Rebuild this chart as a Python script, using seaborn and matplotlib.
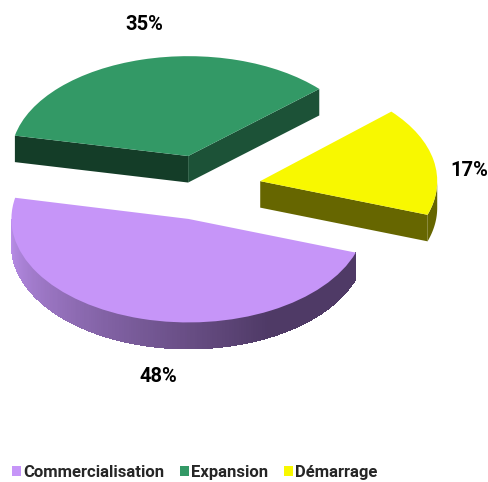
import numpy as np
import seaborn as sns
import matplotlib.pyplot as plt
from matplotlib.collections import PolyCollection
from matplotlib.patches import Patch
from matplotlib.transforms import Affine2D

# chart data
stages = ["Démarrage", "Expansion", "Commercialisation"]
shares = [17, 35, 48]
legend_order = ["Commercialisation", "Expansion", "Démarrage"]

# colours
top_colors = {"Démarrage": "#F8F800", "Expansion": "#339966", "Commercialisation": "#C695F8"}
YELLOW_WALL = "#666600"
GREEN_FRONT = "#143D28"
GREEN_SIDE = "#1C5237"
PURPLE_LIGHT = "#BC90EC"
PURPLE_DARK = "#4F3A66"

W, H = 489, 482
R_PX = 177        # horizontal radius in pixels
RY_PX = 103.5     # vertical radius in pixels
CX, CY = 203, 188 # pie centre in pixels
DEPTH = 26.5 / RY_PX
GREEN_SQUASH = 0.965  # back slice looks flatter in the original

sns.set_theme(style="white")
plt.rcParams["font.family"] = ["Roboto", "DejaVu Sans"]

fig = plt.figure(figsize=(W / 100, H / 100), dpi=100)
ax = fig.add_axes([0, 0, 1, 1])

wedges, _ = ax.pie(
    shares,
    colors=[top_colors[s] for s in stages],
    explode=[0.33, 0.32, 0.31],
    startangle=-19,
    radius=1,
    wedgeprops={"linewidth": 0, "zorder": 3},
)

# pie forces a round shape, here it is squashed to look tilted
ax.set_aspect("auto")
ax.set_xlim(-CX / R_PX, (W - CX) / R_PX)
ax.set_ylim(-(H - CY) / RY_PX, CY / RY_PX)
ax.axis("off")


def rim_points(wedge, a0, a1, n=80, ky=1.0):
    ang = np.radians(np.linspace(a0, a1, n))
    cx, cy = wedge.center
    return np.column_stack([cx + wedge.r * np.cos(ang), cy + ky * wedge.r * np.sin(ang)])


def extrude(pts):
    low = pts[::-1] - [0, DEPTH]
    return np.vstack([pts, low])


def radial_edge(wedge, angle, ky=1.0):
    return np.vstack([wedge.center, rim_points(wedge, angle, angle, 1, ky)])


yellow, green, purple = wedges

# yellow slice: cut face + short piece of outer rim
ax.fill(*extrude(radial_edge(yellow, yellow.theta1)).T, color=YELLOW_WALL, lw=0, zorder=2)
ax.fill(*extrude(rim_points(yellow, yellow.theta1, 0)).T, color=YELLOW_WALL, lw=0, zorder=2)

# green slice: two cut faces, top squashed around its tip
gx, gy = green.center
green.set_transform(
    Affine2D().translate(-gx, -gy).scale(1, GREEN_SQUASH).translate(gx, gy) + ax.transData
)
ax.fill(*extrude(radial_edge(green, green.theta2, GREEN_SQUASH)).T, color=GREEN_FRONT, lw=0, zorder=2)
ax.fill(*extrude(radial_edge(green, green.theta1, GREEN_SQUASH)).T, color=GREEN_SIDE, lw=0, zorder=2)

# purple slice: outer rim, shaded from left to right
rim = rim_points(purple, 180, purple.theta2, 200)
segs = [extrude(rim[i:i + 2]) for i in range(len(rim) - 1)]
x_px = (rim[:-1, 0] + CX / R_PX) * R_PX
n_ramp = int((x_px < 268).sum())
shades = list(sns.blend_palette([PURPLE_LIGHT, PURPLE_DARK], n_ramp))
shades = shades + [PURPLE_DARK] * (len(segs) - n_ramp)
ax.add_collection(PolyCollection(segs, facecolors=shades, edgecolors="none", antialiaseds=False, zorder=2))

# percent labels
label_font = {"fontsize": 14.5, "fontweight": "bold", "color": "black", "ha": "center", "va": "center"}
label_pos = {"Expansion": (144, 25), "Démarrage": (469, 170), "Commercialisation": (158, 376)}
for stage, share in zip(stages, shares):
    px, py = label_pos[stage]
    fig.text(px / W, 1 - py / H, f"{share}%", **label_font)

# legend
handles = [Patch(facecolor=top_colors[s], linewidth=0, label=s) for s in legend_order]
fig.legend(
    handles=handles,
    ncol=3,
    loc="lower left",
    bbox_to_anchor=(12 / W, 2 / H),
    frameon=False,
    borderpad=0,
    borderaxespad=0,
    handlelength=0.55,
    handleheight=0.55,
    handletextpad=0.12,
    columnspacing=0.95,
    prop={"size": 12, "weight": "bold"},
)

fig.savefig("out.png", dpi=100, facecolor="white")
